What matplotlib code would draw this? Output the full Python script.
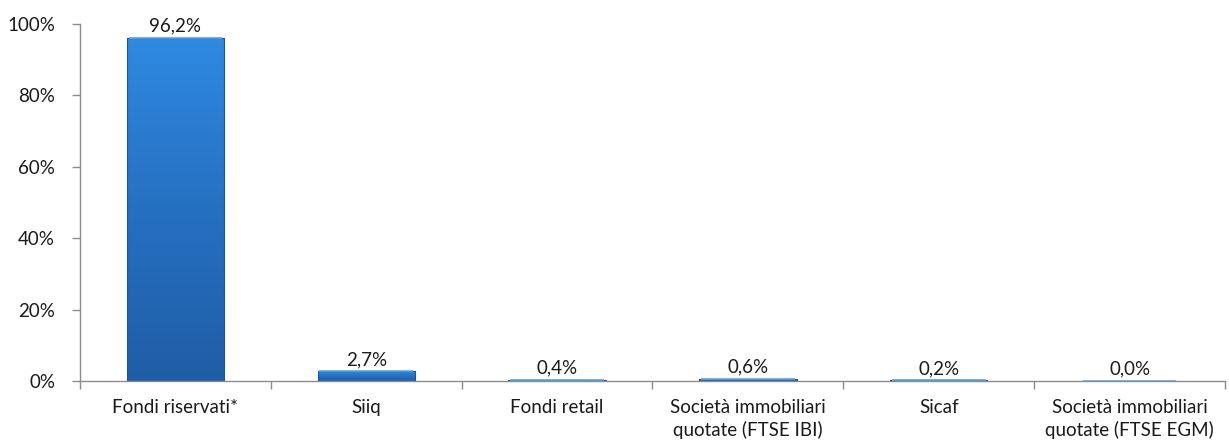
import matplotlib.pyplot as plt
import numpy as np
from matplotlib.colors import LinearSegmentedColormap
from matplotlib.patches import Rectangle
from matplotlib.ticker import FixedLocator, FuncFormatter

plt.rcParams["font.family"] = ["Lato", "DejaVu Sans"]

categories = [
    "Fondi riservati*",
    "Siiq",
    "Fondi retail",
    "Società immobiliari\nquotate (FTSE IBI)",
    "Sicaf",
    "Società immobiliari\nquotate (FTSE EGM)",
]
shares = [96.2, 2.7, 0.4, 0.6, 0.2, 0.0]
y_ticks = [0, 20, 40, 60, 80, 100]

AXIS_GREY = "#8c8c8c"
TEXT = "#1a1a1a"
FS = 13.5
bar_cmap = LinearSegmentedColormap.from_list("bar", ["#2f8ae0", "#2670c2", "#1f5ea6"])

fig = plt.figure(figsize=(12.29, 4.48), dpi=100)
ax = fig.add_axes([80 / 1229, (448 - 381) / 448, 1145 / 1229, 357 / 448])

x = np.arange(len(categories))
width = 0.51
grad = np.linspace(0, 1, 256).reshape(-1, 1)

for xi, v in zip(x, shares):
    left = xi - width / 2
    if v > 0:
        img = ax.imshow(grad, cmap=bar_cmap, aspect="auto", origin="upper",
                        extent=(left, left + width, 0, v), zorder=2)
        clip = Rectangle((left, 0), width, v, transform=ax.transData)
        img.set_clip_path(clip)
    edge = Rectangle((left, 0), width, v, facecolor="none",
                     edgecolor="#1d5494", lw=0.8, zorder=3)
    ax.add_patch(edge)
    # light bevel along the top of each bar
    ax.plot([left + 0.01, left + width - 0.01], [v, v], color="#5aa8ee",
            lw=1.2, zorder=4, solid_capstyle="butt")
    ax.text(xi, v + 0.9, f"{v:.1f}%".replace(".", ","), ha="center", va="bottom",
            fontsize=FS, color=TEXT)

ax.set_xlim(-0.5, len(categories) - 0.5)
ax.set_ylim(0, 100)

ax.yaxis.set_major_locator(FixedLocator(y_ticks))
ax.yaxis.set_major_formatter(FuncFormatter(lambda v, _: f"{v:.0f}%"))
ax.set_xticks(x)
ax.set_xticklabels(categories, fontsize=FS, color=TEXT, linespacing=1.35)
ax.set_xticks(np.arange(len(categories) + 1) - 0.5, minor=True)
ax.tick_params(axis="x", which="major", length=0, pad=13)
ax.tick_params(axis="x", which="minor", length=6, color=AXIS_GREY, width=1)
ax.tick_params(axis="y", length=6, color=AXIS_GREY, width=1, labelsize=FS,
               labelcolor=TEXT, pad=12)

for side in ("top", "right"):
    ax.spines[side].set_visible(False)
for side in ("left", "bottom"):
    ax.spines[side].set_color(AXIS_GREY)
    ax.spines[side].set_linewidth(1)

fig.savefig("out.png", dpi=100)
